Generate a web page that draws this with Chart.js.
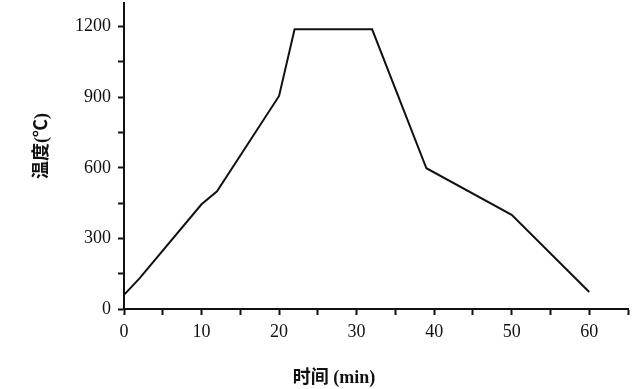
<!DOCTYPE html>
<html>
<head>
<meta charset="utf-8">
<script src="https://cdn.jsdelivr.net/npm/chart.js@4"></script>
<style>
  html, body { margin: 0; padding: 0; background: #fff; }
  #wrap { width: 641px; height: 389px; }
</style>
</head>
<body>
<div id="wrap"><canvas id="c"></canvas></div>
<script>
// time (min) and furnace temperature (°C)
const times = [0, 2, 10, 12, 20, 22, 32, 39, 50, 60];
const temps = [60, 130, 445, 500, 905, 1188, 1188, 598, 400, 72];
const xTicks = [0, 10, 20, 30, 40, 50, 60];
const yTicks = [0, 300, 600, 900, 1200];
const xTitle = "时间 (min)";
const yTitle = "温度(℃)";

const tickFont = { family: "'Liberation Serif', 'DejaVu Serif', serif", size: 18 };

// axis titles sit off-centre in the original, so draw them by hand
const titles = {
  id: "titles",
  afterDraw(chart) {
    const ctx = chart.ctx;
    ctx.save();
    ctx.fillStyle = "#111";
    ctx.font = "bold 18px 'Liberation Serif', 'Noto Sans CJK SC'";
    ctx.textAlign = "center";
    ctx.textBaseline = "middle";
    ctx.fillText(xTitle, 334, 378);
    ctx.translate(42, 146);
    ctx.rotate(-Math.PI / 2);
    ctx.fillText(yTitle, 0, 0);
    ctx.restore();
  }
};

new Chart(document.getElementById("c"), {
  type: "line",
  data: {
    datasets: [{
      data: times.map((t, i) => ({ x: t, y: temps[i] })),
      borderColor: "#111",
      borderWidth: 2,
      pointRadius: 0,
      tension: 0,
      fill: false
    }]
  },
  options: {
    responsive: true,
    maintainAspectRatio: false,
    animation: false,
    layout: { padding: { left: 0, right: 13, top: 3, bottom: 0 } },
    plugins: { legend: { display: false }, tooltip: { enabled: false } },
    scales: {
      x: {
        type: "linear",
        min: 0,
        max: 65,
        afterFit(s) { s.height = 80; s.paddingLeft = 0; s.paddingRight = 0; },
        border: { color: "#111", width: 2 },
        grid: { drawOnChartArea: false, drawTicks: true, tickLength: 6, tickColor: "#111", tickWidth: 2 },
        ticks: {
          stepSize: 5,
          autoSkip: false,
          maxRotation: 0,
          padding: 6,
          color: "#111",
          font: tickFont,
          callback: v => xTicks.includes(v) ? v : ""
        }
      },
      y: {
        min: 0,
        max: 1300,
        afterFit(s) { s.width = 124; s.paddingTop = 0; s.paddingBottom = 0; },
        afterBuildTicks(s) { s.ticks = s.ticks.filter(t => t.value <= 1200); },
        border: { color: "#111", width: 2 },
        grid: { drawOnChartArea: false, drawTicks: true, tickLength: 6, tickColor: "#111", tickWidth: 2 },
        ticks: {
          stepSize: 150,
          autoSkip: false,
          padding: 7,
          color: "#111",
          font: tickFont,
          callback: v => yTicks.includes(v) ? v : ""
        }
      }
    }
  },
  plugins: [titles]
});
</script>
</body>
</html>
